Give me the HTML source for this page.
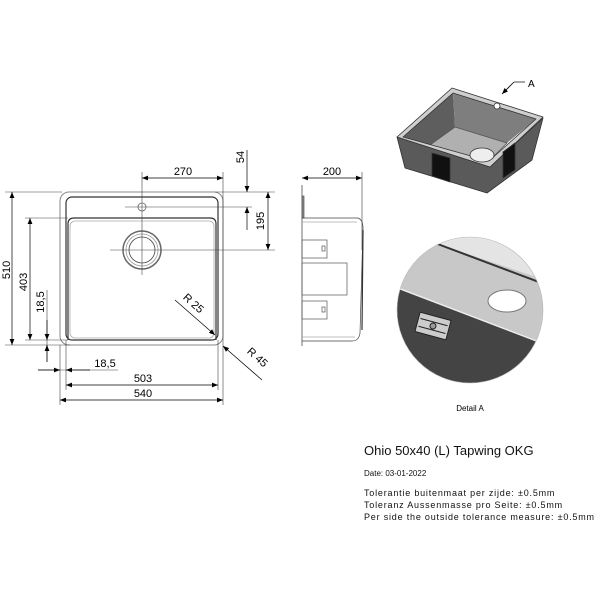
<!DOCTYPE html>
<html><head><meta charset="utf-8"><style>
html,body{margin:0;padding:0;background:#fff;}
svg{display:block;font-family:"Liberation Sans",Arial,sans-serif;}
</style></head><body>
<svg width="600" height="600" viewBox="0 0 600 600" xmlns="http://www.w3.org/2000/svg">
<defs>
<marker id="a" viewBox="0 0 10 10" refX="10" refY="5" markerWidth="8" markerHeight="6" orient="auto-start-reverse" markerUnits="userSpaceOnUse"><path d="M0,1 L10,5 L0,9 Z" fill="#000"/></marker>
</defs>
<g fill="none" stroke="#555" stroke-width="0.8">
<rect x="60" y="192" width="163" height="153" rx="9" stroke="#888" stroke-width="1"/>
<rect x="66" y="197" width="152" height="143" rx="6" stroke="#333" stroke-width="1.2"/>
<path d="M68,340 L68,224 Q68,218 74,218 L210,218 Q216,218 216,224 L216,340" stroke="#333" stroke-width="1.2"/>
<rect x="70" y="221" width="144" height="117" rx="5" stroke="#aaa"/>
<circle cx="142" cy="250" r="19" stroke="#666" stroke-width="1.5"/>
<circle cx="142" cy="250" r="16" stroke="#999"/>
<circle cx="142" cy="250" r="13" stroke="#444"/>
<circle cx="142" cy="207" r="4" stroke="#666"/>
</g>
<g stroke="#444" stroke-width="0.6" fill="none">
<line x1="142" y1="172" x2="142" y2="275"/>
<line x1="110" y1="250" x2="275" y2="250"/>
<line x1="125" y1="207" x2="252" y2="207"/>
<line x1="215" y1="192" x2="275" y2="192"/>
<line x1="223" y1="172" x2="223" y2="405"/>
<line x1="60" y1="345" x2="60" y2="405"/>
<line x1="66" y1="340" x2="66" y2="390"/>
<line x1="218" y1="340" x2="218" y2="390"/>
<line x1="5" y1="192" x2="62" y2="192"/>
<line x1="25" y1="218" x2="68" y2="218"/>
<line x1="25" y1="340" x2="68" y2="340"/>
<line x1="5" y1="345" x2="70" y2="345"/>
<line x1="47" y1="290" x2="47" y2="362"/>
<line x1="38" y1="370" x2="118" y2="370"/>
</g>
<g stroke="#000" stroke-width="0.7">
<line x1="142" y1="178" x2="223" y2="178" marker-start="url(#a)" marker-end="url(#a)"/>
<line x1="247" y1="150" x2="247" y2="192" marker-end="url(#a)"/>
<line x1="247" y1="230" x2="247" y2="207" marker-end="url(#a)"/>
<line x1="268" y1="192" x2="268" y2="250" marker-start="url(#a)" marker-end="url(#a)"/>
<line x1="12" y1="192" x2="12" y2="345" marker-start="url(#a)" marker-end="url(#a)"/>
<line x1="30" y1="218" x2="30" y2="340" marker-start="url(#a)" marker-end="url(#a)"/>
<line x1="47" y1="320" x2="47" y2="340" marker-end="url(#a)"/>
<line x1="47" y1="362" x2="47" y2="345" marker-end="url(#a)"/>
<line x1="38" y1="370" x2="60" y2="370" marker-end="url(#a)"/>
<line x1="90" y1="370" x2="66" y2="370" marker-end="url(#a)"/>
<line x1="66" y1="385" x2="218" y2="385" marker-start="url(#a)" marker-end="url(#a)"/>
<line x1="60" y1="400" x2="223" y2="400" marker-start="url(#a)" marker-end="url(#a)"/>
<line x1="175" y1="300" x2="215" y2="335" marker-end="url(#a)"/>
<line x1="262" y1="380" x2="223" y2="346" marker-end="url(#a)"/>
<line x1="302" y1="178" x2="362" y2="178" marker-start="url(#a)" marker-end="url(#a)"/>
</g>
<g font-size="11" fill="#000" text-anchor="middle">
<text x="183" y="175">270</text>
<text x="332" y="175">200</text>
<text x="105" y="367">18,5</text>
<text x="143" y="382">503</text>
<text x="143" y="397">540</text>
<text transform="translate(244,157) rotate(-90)">54</text>
<text transform="translate(264,221) rotate(-90)">195</text>
<text transform="translate(10,270) rotate(-90)">510</text>
<text transform="translate(27,282) rotate(-90)">403</text>
<text transform="translate(44,302) rotate(-90)">18,5</text>
<text transform="translate(191,306) rotate(42)">R 25</text>
<text transform="translate(255,360) rotate(42)">R 45</text>
</g>
<g fill="none" stroke="#555" stroke-width="0.7">
<line x1="302" y1="185" x2="302" y2="346" stroke="#333"/>
<line x1="362" y1="172" x2="362" y2="250"/>
<rect x="302" y="196" width="2" height="22" fill="#888"/>
<path d="M302,218 L358,218 Q363,220 363,228 L360,333 Q359,341 352,341 L302,341" stroke="#444"/>
<line x1="302" y1="222" x2="357" y2="222" stroke="#aaa"/>
<line x1="302" y1="337" x2="355" y2="337" stroke="#aaa"/>
<line x1="363" y1="230" x2="362" y2="330" stroke="#333" stroke-width="1.2"/>
<rect x="302" y="240" width="25" height="18"/>
<rect x="302" y="263" width="45" height="32"/>
<rect x="302" y="301" width="25" height="18"/>
<rect x="322" y="246" width="3" height="5"/>
<rect x="322" y="307" width="3" height="5"/>
</g>
<g stroke="#333" stroke-width="0.8" stroke-linejoin="round">
<path d="M397,137 L405,168 L487,193 L532,160 L543,118 L490,167 Z" fill="#5a5a5a"/>
<path d="M453,93 L455,127 L430,145 L403,137 Z" fill="#5e5e5e" stroke="none"/>
<path d="M453,93 L455,127 L507,143 L536,119 Z" fill="#7e7e7e" stroke="none"/>
<path d="M430,145 L455,127 L507,143 L487,163 Z" fill="#b0b0b0" stroke="#555"/>
<path d="M397,137 L452,88 L543,117 L490,167 Z M403,137 L489,161 L536,119 L453,93 Z" fill="#cfcfcf" fill-rule="evenodd"/>
<path d="M432,153 L450,158 L450,182 L432,176 Z" fill="#111"/>
<path d="M503,152 L515,143 L515,170 L503,178 Z" fill="#111"/>
<ellipse cx="482" cy="155" rx="12" ry="7" fill="#eee"/>
<circle cx="497" cy="106" r="3" fill="#fff"/>
</g>
<line x1="514" y1="82" x2="502" y2="94" stroke="#000" stroke-width="0.8" marker-end="url(#a)"/>
<line x1="514" y1="82" x2="525" y2="82" stroke="#000" stroke-width="0.7"/>
<text x="528" y="87" font-size="10">A</text>
<defs><clipPath id="c"><circle cx="470" cy="310" r="73"/></clipPath></defs>
<g clip-path="url(#c)">
<rect x="390" y="230" width="160" height="160" fill="#444"/>
<path d="M390,230 L560,230 L560,350 L390,285 Z" fill="#c8c8c8"/>
<path d="M390,230 L560,230 L560,285 L435,243 Z" fill="#e4e4e4"/>
<line x1="435" y1="243" x2="560" y2="290" stroke="#333" stroke-width="2"/>
<line x1="390" y1="285" x2="560" y2="350" stroke="#eee" stroke-width="1.5"/>
<ellipse cx="507" cy="301" rx="19" ry="11" fill="#fff" stroke="#777"/>
<g transform="translate(433,326) rotate(15)">
<rect x="-16" y="-10" width="32" height="20" fill="#ccc" stroke="#222"/>
<line x1="-14" y1="-4" x2="14" y2="-4" stroke="#222"/>
<line x1="-14" y1="4" x2="14" y2="4" stroke="#222"/>
<circle cx="0" cy="0" r="3" fill="#999" stroke="#222"/>
</g>
</g>
<circle cx="470" cy="310" r="73" fill="none" stroke="#bbb" stroke-width="0.6"/>
<text x="470" y="411" font-size="8" text-anchor="middle">Detail A</text>
<text x="364" y="455" font-size="13" fill="#111">Ohio 50x40 (L) Tapwing OKG</text>
<text x="364" y="476" font-size="8" fill="#111">Date: 03-01-2022</text>
<g font-size="9" fill="#111" letter-spacing="0.8">
<text x="364" y="496">Tolerantie buitenmaat per zijde: ±0.5mm</text>
<text x="364" y="508">Toleranz Aussenmasse pro Seite: ±0.5mm</text>
<text x="364" y="520">Per side the outside tolerance measure: ±0.5mm</text>
</g>
</svg>
</body></html>
